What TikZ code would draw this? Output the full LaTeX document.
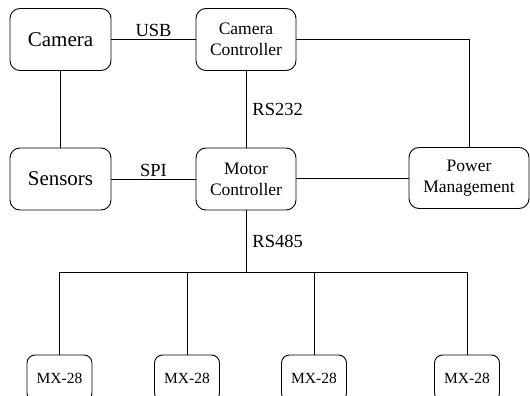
\documentclass[tikz,border=0pt]{standalone}
\usepackage{fontspec}
\setmainfont{Liberation Serif}
\usepackage{tikz}
\usetikzlibrary{positioning, calc}

\begin{document}
\begin{tikzpicture}[x=1pt, y=-1pt, line width=0.9pt,
		block/.style={draw, rounded corners=10pt, align=center, inner sep=0pt, minimum width=101pt, minimum height=62pt},
		servo/.style={draw, rounded corners=8pt, align=center, inner sep=0pt, minimum width=65pt, minimum height=46pt, font=\fontsize{15.5}{17}\selectfont},
		bigtext/.style={font=\fontsize{21}{24}\selectfont},
		smalltext/.style={font=\fontsize{17.5}{21}\selectfont},
		lbl/.style={font=\fontsize{18.5}{20}\selectfont, inner sep=2pt}]
		\useasboundingbox (0,0) rectangle (530,396);
		\pgfmathsetmacro{\busy}{272}
		
		\node[block, bigtext] (cam) at (60.5,39.5) {Camera};
		\node[block, smalltext, minimum width=100pt] (camctrl) at (246,39.5) {Camera\\Controller};
		\node[block, bigtext] (sens) at (60.5,179) {Sensors};
		\node[block, smalltext, minimum width=100pt] (motor) at (246,179) {Motor\\Controller};
		\node[block, smalltext, minimum width=120pt, minimum height=61pt] (power) at (469,178) {Power\\Management};
		
		\node[servo] (mx1) at (59.5,378) {MX-28};
		\node[servo] (mx2) at (187,378) {MX-28};
		\node[servo] (mx3) at (314,378) {MX-28};
		\node[servo] (mx4) at (467,378) {MX-28};
		\coordinate (bus) at (246,\busy);
		
		\draw (cam) -- node[lbl, above] {USB} (camctrl);
		\draw (sens) -- node[lbl, above] {SPI} (motor);
		\draw (cam) -- (sens);
		\draw (camctrl) -- node[lbl, right, xshift=4pt] {RS232} (motor);
		\draw (camctrl.east) -| (power.north);
		\draw (motor.east |- power.west) -- (power.west);
		\draw (motor.south) -- node[lbl, right, xshift=4pt] {RS485} (bus);
		
		\draw (mx1.north) |- (mx4.north |- bus) -- (mx4.north);
		\draw (mx2.north) -- (mx2.north |- bus);
		\draw (mx3.north) -- (mx3.north |- bus);
\end{tikzpicture}
\end{document}
